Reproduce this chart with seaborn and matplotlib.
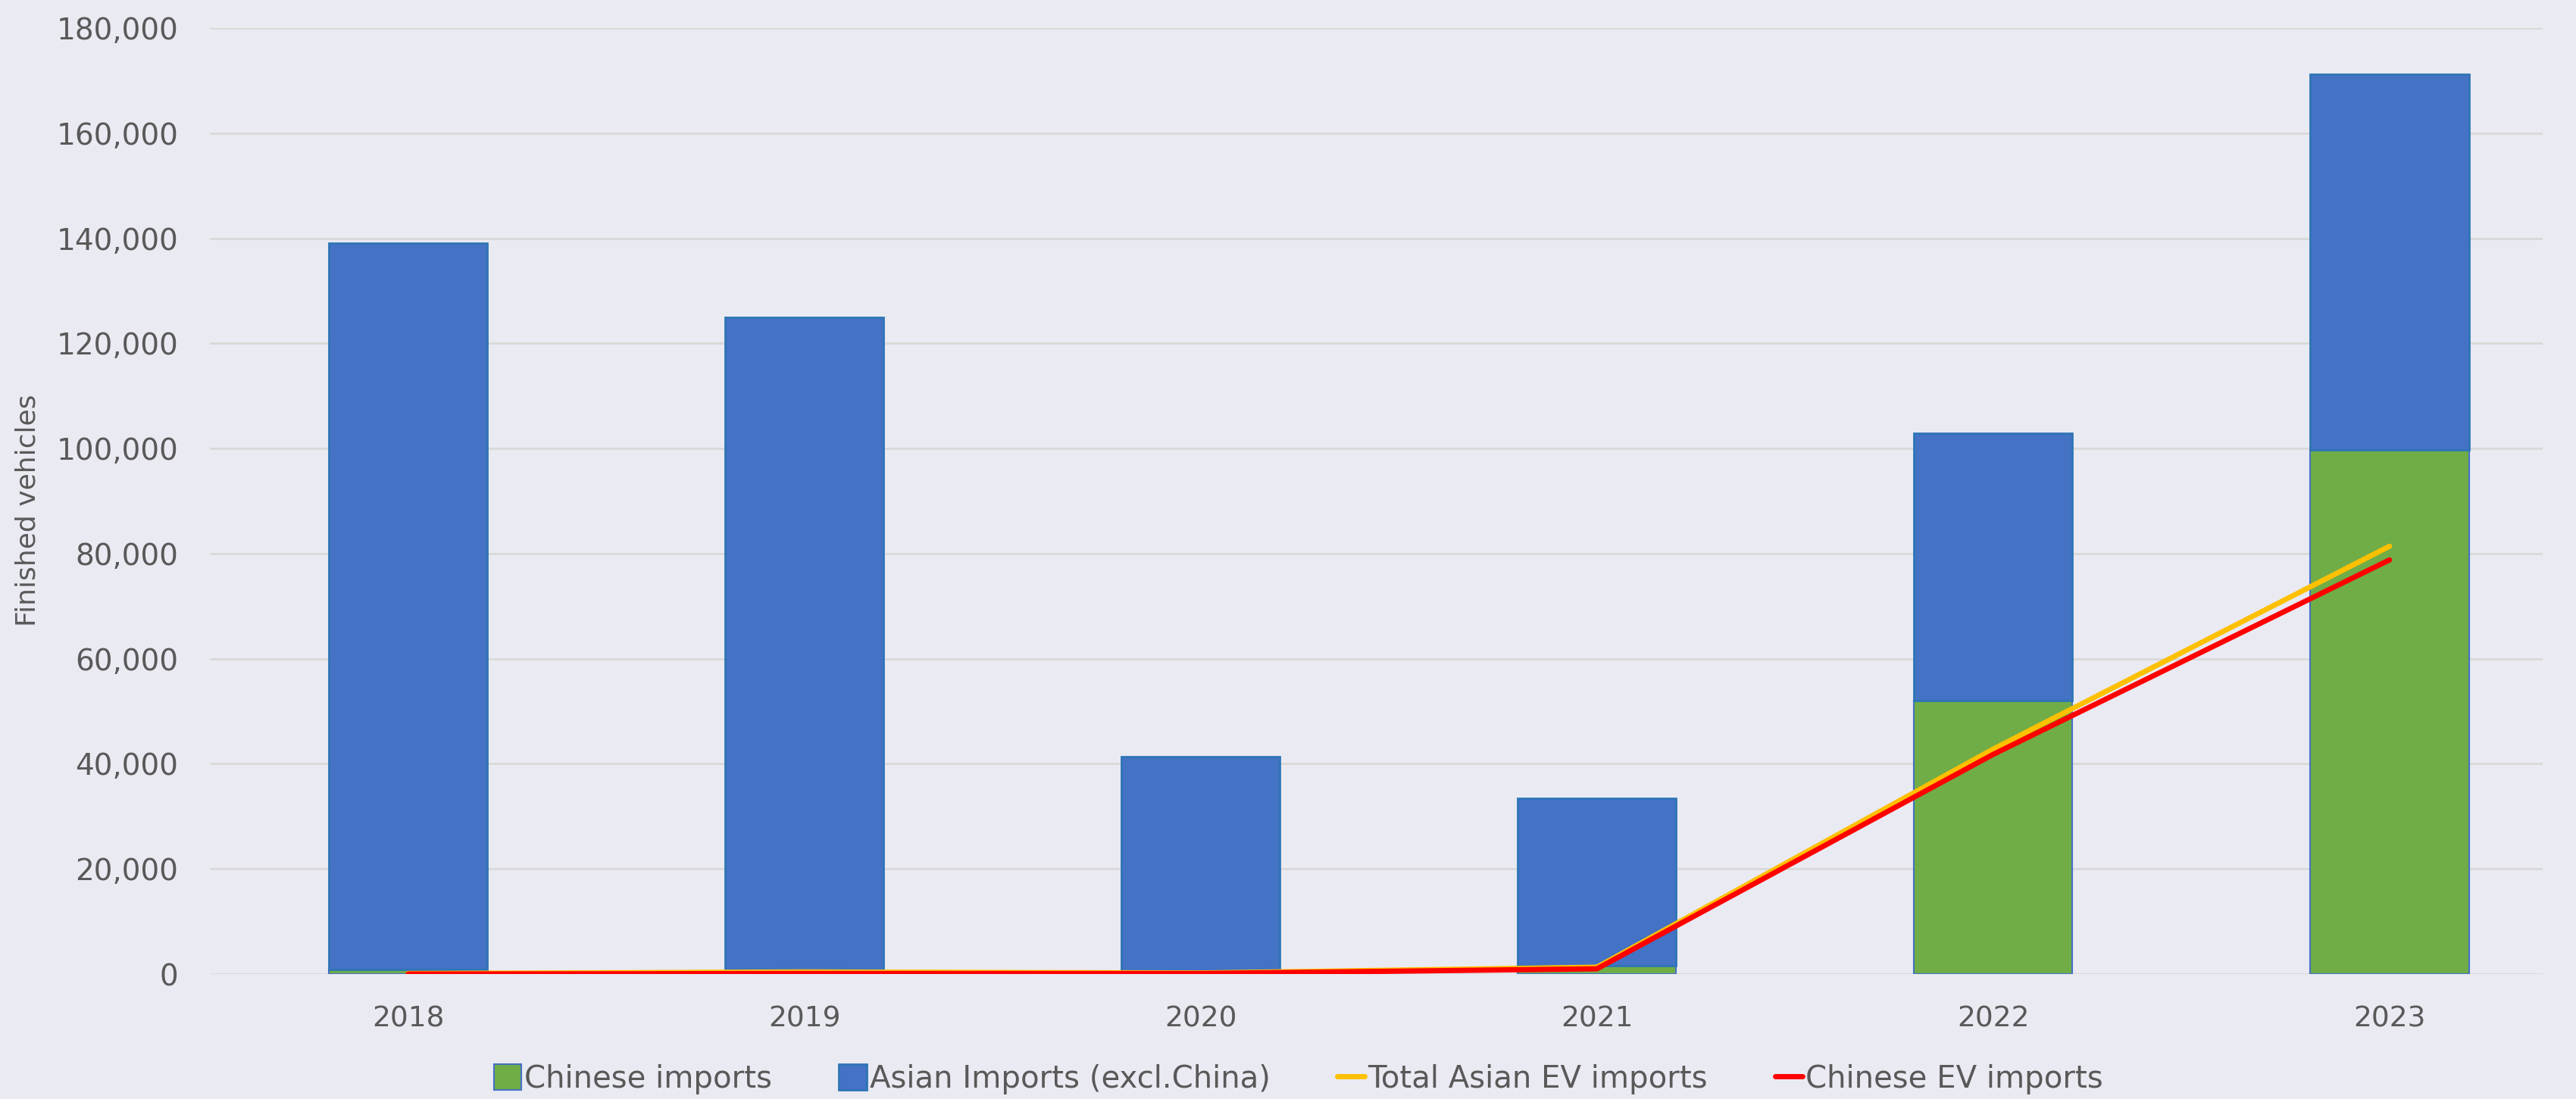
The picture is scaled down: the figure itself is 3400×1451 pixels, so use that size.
import numpy as np
import matplotlib
matplotlib.use("Agg")
import matplotlib.pyplot as plt
import seaborn as sns
from matplotlib.ticker import FuncFormatter

# data
years = ['2018', '2019', '2020', '2021', '2022', '2023']
chinese_imports = [800, 300, 200, 1600, 52000, 99700]
asian_excl_china = [138200, 124700, 41100, 31800, 50900, 71500]
total_asian_ev = [100, 400, 200, 1300, 42800, 81400]
chinese_ev = [0, 100, 100, 1000, 41800, 78800]

bg = '#EAEAF2'
txt = '#595959'

sns.set_theme(style='darkgrid')
plt.rcParams['font.family'] = ['DejaVu Sans']
plt.rcParams['axes.facecolor'] = bg
plt.rcParams['figure.facecolor'] = bg
plt.rcParams['grid.color'] = '#D9D9D9'
plt.rcParams['grid.linewidth'] = 2

fig = plt.figure(figsize=(34, 14.51), dpi=100)
ax = fig.add_axes([0.0815, 0.1137, 0.9055, 0.8608])

# stacked bars
sns.barplot(x=years, y=chinese_imports, color='#70AD47', saturation=1, width=0.4,
            edgecolor='#4472C4', linewidth=1.5, label='Chinese imports', ax=ax)
sns.barplot(x=years, y=asian_excl_china, bottom=chinese_imports, color='#4472C4',
            saturation=1, width=0.4, edgecolor='#2E75B6', linewidth=2,
            label='Asian Imports (excl.China)', ax=ax)

# lines
sns.lineplot(x=years, y=total_asian_ev, color='#FFC000', linewidth=5,
             solid_capstyle='round', label='Total Asian EV imports', ax=ax)
sns.lineplot(x=years, y=chinese_ev, color='#FF0000', linewidth=5,
             solid_capstyle='round', label='Chinese EV imports', ax=ax)

ax.set_xlim(-0.5, 5.386)
ax.set_ylim(0, 180000)
ax.set_yticks(np.arange(0, 180001, 20000))
ax.yaxis.set_major_formatter(FuncFormatter(lambda v, p: f'{v:,.0f}'))
ax.grid(axis='x', visible=False)
ax.grid(axis='y', visible=True)
for s in ax.spines.values():
    s.set_visible(False)
ax.tick_params(axis='y', length=0, labelsize=28, labelcolor=txt, pad=30)
ax.tick_params(axis='x', length=0, labelsize=27, labelcolor=txt, pad=30)
ax.set_xlabel('')
ax.set_ylabel('Finished vehicles', fontsize=26, color=txt)
ax.yaxis.set_label_coords(-0.0725, 0.49)

handles, labels = ax.get_legend_handles_labels()
if ax.get_legend() is not None:
    ax.get_legend().remove()
order = ['Chinese imports', 'Asian Imports (excl.China)', 'Total Asian EV imports', 'Chinese EV imports']
hmap = dict(zip(labels, handles))
leg = fig.legend([hmap[l] for l in order], order, loc='center', bbox_to_anchor=(0.504, 0.018),
                 ncol=4, frameon=False, fontsize=29, handlelength=0.9, handleheight=0.9,
                 handletextpad=0.1, columnspacing=2.2)
for t in leg.get_texts():
    t.set_color(txt)

fig.savefig('out.png', dpi=100, facecolor=bg)
